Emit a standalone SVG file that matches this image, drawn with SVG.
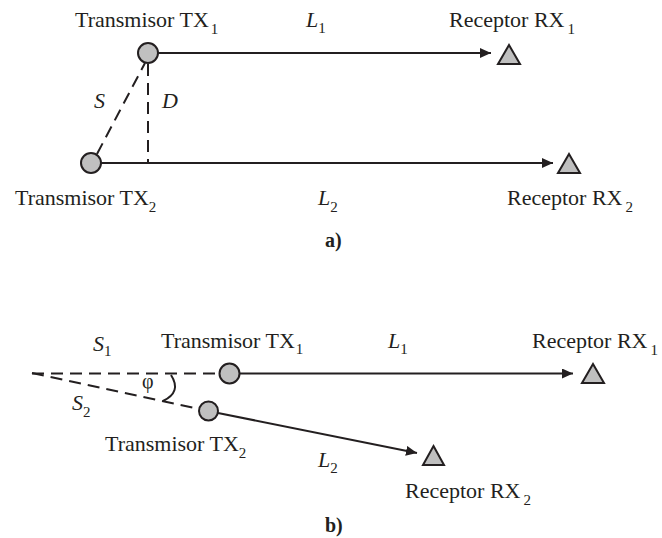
<svg xmlns="http://www.w3.org/2000/svg" width="662" height="538" viewBox="0 0 662 538">
<style>
.t{font-family:"Liberation Serif","Times New Roman",serif;font-size:22px;fill:#231f20}
.i{font-style:italic}
.n{font-style:normal}
.b{font-weight:bold;font-size:20px}
.s{font-size:15px}
.ln{stroke:#231f20;stroke-width:2;fill:none}
.da{stroke:#231f20;stroke-width:2;fill:none;stroke-dasharray:12 7}
.tx{fill:#c0c0c0;stroke:#231f20;stroke-width:2}
.rx{fill:#bfbfbf;stroke:#231f20;stroke-width:2}
</style>
<defs>
<marker id="ah" markerUnits="userSpaceOnUse" markerWidth="11" markerHeight="10" refX="11" refY="5" orient="auto">
<path d="M0,0 L11,5 L0,10 z" fill="#231f20"/>
</marker>
</defs>
<g id="connectors">
<line class="ln" x1="158" y1="53" x2="491" y2="53" marker-end="url(#ah)"/>
<line class="ln" x1="101" y1="163" x2="553" y2="163" marker-end="url(#ah)"/>
<line class="da" x1="97" y1="154" x2="145" y2="63"/>
<line class="da" x1="148" y1="64" x2="148" y2="163"/>
<line class="da" x1="32" y1="373.5" x2="219" y2="373.5"/>
<line class="da" x1="32" y1="373" x2="199" y2="409"/>
<line class="ln" x1="240" y1="373.5" x2="573" y2="373.5" marker-end="url(#ah)"/>
<line class="ln" x1="218" y1="413" x2="417" y2="453" marker-end="url(#ah)"/>
<path class="ln" d="M171,375 Q182,392 163,401"/>
</g>
<g font-family="Liberation Serif, serif">
<g id="tx1a"><circle class="tx" cx="148" cy="53" r="10"/><text class="t" x="75" y="27">Transmisor TX<tspan class="s" dx="2" dy="7">1</tspan></text></g>
<g id="tx2a"><circle class="tx" cx="91" cy="163" r="10"/><text class="t" x="15" y="205">Transmisor TX<tspan class="s" dy="7">2</tspan></text></g>
<g id="rx1a"><path class="rx" d="M509,45 L520,64 L498,64 z"/><text class="t" x="449" y="27">Receptor RX<tspan class="s" dx="3" dy="7">1</tspan></text></g>
<g id="rx2a"><path class="rx" d="M569,154 L580,173 L558,173 z"/><text class="t" x="507" y="205">Receptor RX<tspan class="s" dx="3" dy="7">2</tspan></text></g>
<g id="labelsa">
<text class="t i" x="306" y="27">L<tspan class="s n" dy="6">1</tspan></text>
<text class="t i" x="318" y="205">L<tspan class="s n" dy="7">2</tspan></text>
<text class="t i" x="94" y="108">S</text>
<text class="t i" x="162" y="108">D</text>
<text class="t b" x="325" y="247">a)</text>
</g>
<g id="tx1b"><circle class="tx" cx="229.5" cy="373.5" r="10"/><text class="t" x="161" y="348">Transmisor TX<tspan class="s" dx="1" dy="6">1</tspan></text></g>
<g id="tx2b"><circle class="tx" cx="208.5" cy="411" r="9.5"/><text class="t" x="105" y="451">Transmisor TX<tspan class="s" dy="7">2</tspan></text></g>
<g id="rx1b"><path class="rx" d="M593,364 L604,383 L582,383 z"/><text class="t" x="532" y="348">Receptor RX<tspan class="s" dx="3" dy="7">1</tspan></text></g>
<g id="rx2b"><path class="rx" d="M433.5,446 L444,465 L423,465 z"/><text class="t" x="405" y="498">Receptor RX<tspan class="s" dx="3" dy="7">2</tspan></text></g>
<g id="labelsb">
<text class="t i" x="93" y="351">S<tspan class="s n" dy="5">1</tspan></text>
<text class="t i" x="72" y="410">S<tspan class="s n" dy="7">2</tspan></text>
<text class="t i" x="388" y="348">L<tspan class="s n" dy="6">1</tspan></text>
<text class="t i" x="318" y="467">L<tspan class="s n" dy="6">2</tspan></text>
<text class="t" x="142" y="388" font-size="20" style="font-size:20px">φ</text>
<text class="t b" x="325" y="532">b)</text>
</g>
</g>
</svg>
